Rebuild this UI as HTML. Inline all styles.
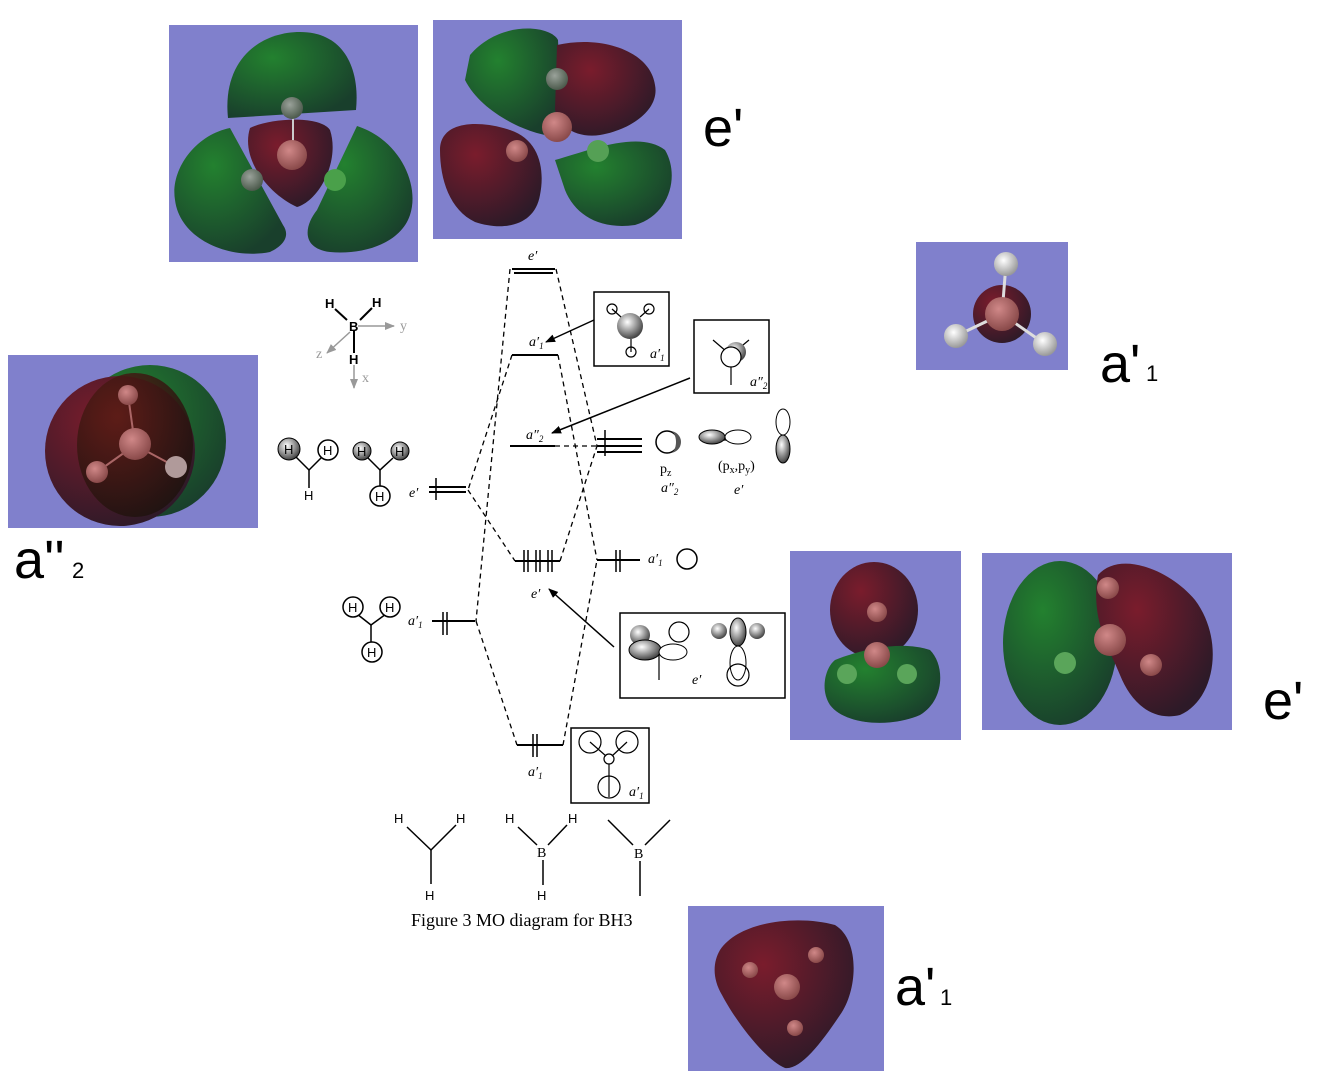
<!DOCTYPE html>
<html><head><meta charset="utf-8"><style>
html,body{margin:0;padding:0;background:#fff;}
svg{display:block;}
.big{font-family:"Liberation Sans",sans-serif;font-size:54px;fill:#000;}
.sub{font-family:"Liberation Sans",sans-serif;font-size:22px;fill:#000;}
.it{font-family:"Liberation Serif",serif;font-style:italic;font-size:14px;fill:#000;}
.rm{font-family:"Liberation Serif",serif;font-size:14px;fill:#000;}
.h{font-family:"Liberation Sans",sans-serif;font-size:13px;fill:#000;}
</style></head><body>
<svg width="1330" height="1082" viewBox="0 0 1330 1082" xmlns="http://www.w3.org/2000/svg">
<defs>
<radialGradient id="g" cx="35%" cy="30%" r="75%"><stop offset="0" stop-color="#23812f"/><stop offset="1" stop-color="#193f2c"/></radialGradient>
<radialGradient id="r" cx="35%" cy="30%" r="75%"><stop offset="0" stop-color="#7a1c2c"/><stop offset="1" stop-color="#2d1a28"/></radialGradient>
<radialGradient id="rd" cx="35%" cy="30%" r="75%"><stop offset="0" stop-color="#5a1c14"/><stop offset="1" stop-color="#1e120e"/></radialGradient>
<radialGradient id="at" cx="40%" cy="35%" r="65%"><stop offset="0" stop-color="#d08888"/><stop offset="1" stop-color="#8a4a4a"/></radialGradient>
<radialGradient id="ag" cx="40%" cy="35%" r="65%"><stop offset="0" stop-color="#9aa29a"/><stop offset="1" stop-color="#4c5a4c"/></radialGradient>
<radialGradient id="aw" cx="40%" cy="35%" r="65%"><stop offset="0" stop-color="#ffffff"/><stop offset="1" stop-color="#999"/></radialGradient>
<radialGradient id="sh" cx="40%" cy="35%" r="65%"><stop offset="0" stop-color="#fff"/><stop offset="1" stop-color="#444"/></radialGradient>
<marker id="ar" markerWidth="10" markerHeight="8" refX="9" refY="4" orient="auto" markerUnits="userSpaceOnUse"><path d="M0,0 L10,4 L0,8 Z" fill="#000"/></marker>
<marker id="ag2" markerWidth="10" markerHeight="8" refX="9" refY="4" orient="auto" markerUnits="userSpaceOnUse"><path d="M0,0 L10,4 L0,8 Z" fill="#999"/></marker>
</defs>

<!-- Box 1 -->
<rect x="169" y="25" width="249" height="237" fill="#8080cc"/>
<path d="M228,118 C222,60 260,32 300,32 C345,32 360,70 356,110 Z" fill="url(#g)"/>
<path d="M250,128 C270,118 320,115 330,130 C340,160 320,200 297,207 C270,195 240,160 250,128 Z" fill="url(#r)"/>
<path d="M230,128 C195,135 170,170 175,200 C180,240 230,260 270,252 C285,245 290,235 283,225 Z" fill="url(#g)"/>
<path d="M357,126 C400,140 420,185 410,215 C400,245 360,255 330,252 C300,248 305,225 317,210 Z" fill="url(#g)"/>
<line x1="293" y1="108" x2="293" y2="155" stroke="#ccc" stroke-width="2"/>
<circle cx="292" cy="108" r="11" fill="url(#ag)"/>
<circle cx="292" cy="155" r="15" fill="url(#at)"/>
<circle cx="252" cy="180" r="11" fill="url(#ag)"/>
<circle cx="335" cy="180" r="11" fill="#4aa04a"/>

<!-- Box 2 -->
<rect x="433" y="20" width="249" height="219" fill="#8080cc"/>
<path d="M470,55 C500,20 550,25 558,40 C560,80 560,120 545,135 C520,130 480,110 465,80 Z" fill="url(#g)"/>
<path d="M557,45 C600,35 650,50 655,85 C660,110 630,130 600,135 C580,138 560,130 555,110 Z" fill="url(#r)"/>
<path d="M440,150 C440,120 480,120 510,130 C540,140 545,170 540,195 C535,225 505,232 475,222 C450,210 440,180 440,150 Z" fill="url(#r)"/>
<path d="M555,160 C590,150 640,130 665,150 C680,175 670,215 635,225 C600,230 575,215 565,190 Z" fill="url(#g)"/>
<circle cx="557" cy="79" r="11" fill="url(#ag)"/>
<circle cx="557" cy="127" r="15" fill="url(#at)"/>
<circle cx="517" cy="151" r="11" fill="url(#at)"/>
<circle cx="598" cy="151" r="11" fill="#55a055"/>

<text class="big" x="703" y="146">e'</text>

<!-- Box 3 -->
<rect x="916" y="242" width="152" height="128" fill="#8080cc"/>
<circle cx="1002" cy="314" r="29" fill="url(#r)"/>
<line x1="1006" y1="264" x2="1002" y2="314" stroke="#ddd" stroke-width="3"/>
<line x1="956" y1="336" x2="1002" y2="314" stroke="#ddd" stroke-width="3"/>
<line x1="1045" y1="344" x2="1002" y2="314" stroke="#ddd" stroke-width="3"/>
<circle cx="1002" cy="314" r="17" fill="url(#at)"/>
<circle cx="1006" cy="264" r="12" fill="url(#aw)"/>
<circle cx="956" cy="336" r="12" fill="url(#aw)"/>
<circle cx="1045" cy="344" r="12" fill="url(#aw)"/>
<text class="big" x="1100" y="382">a'</text><text class="sub" x="1146" y="381">1</text>

<!-- Box 4 -->
<rect x="8" y="355" width="250" height="173" fill="#8080cc"/>
<circle cx="150" cy="441" r="76" fill="url(#g)"/>
<circle cx="120" cy="451" r="75" fill="url(#r)"/>
<ellipse cx="135" cy="445" rx="58" ry="72" fill="url(#rd)" opacity="0.85"/>
<line x1="128" y1="395" x2="135" y2="445" stroke="#a66" stroke-width="2"/>
<line x1="97" y1="472" x2="135" y2="445" stroke="#a66" stroke-width="2"/>
<line x1="176" y1="467" x2="135" y2="445" stroke="#a66" stroke-width="2"/>
<circle cx="135" cy="444" r="16" fill="url(#at)"/>
<circle cx="128" cy="395" r="10" fill="url(#at)"/>
<circle cx="97" cy="472" r="11" fill="url(#at)"/>
<circle cx="176" cy="467" r="11" fill="#b09a9a"/>
<text class="big" x="14" y="578">a''</text><text class="sub" x="72" y="578">2</text>

<!-- Box 5 -->
<rect x="790" y="551" width="171" height="189" fill="#8080cc"/>
<ellipse cx="874" cy="610" rx="44" ry="48" fill="url(#r)"/>
<path d="M835,660 C860,650 900,640 930,650 C945,665 945,700 920,715 C890,728 845,725 830,705 C820,690 825,668 835,660 Z" fill="url(#g)"/>
<circle cx="877" cy="612" r="10" fill="url(#at)"/>
<circle cx="877" cy="655" r="13" fill="url(#at)"/>
<circle cx="847" cy="674" r="10" fill="#5aa55a"/>
<circle cx="907" cy="674" r="10" fill="#5aa55a"/>

<!-- Box 6 -->
<rect x="982" y="553" width="250" height="177" fill="#8080cc"/>
<ellipse cx="1060" cy="643" rx="57" ry="82" fill="url(#g)"/>
<path d="M1098,575 C1120,550 1170,570 1195,600 C1225,640 1215,700 1180,715 C1150,722 1130,700 1120,675 C1110,650 1090,620 1098,575 Z" fill="url(#r)"/>
<circle cx="1110" cy="640" r="16" fill="url(#at)"/>
<circle cx="1108" cy="588" r="11" fill="url(#at)"/>
<circle cx="1065" cy="663" r="11" fill="#5aa55a"/>
<circle cx="1151" cy="665" r="11" fill="url(#at)"/>
<text class="big" x="1263" y="719">e'</text>

<!-- Box 7 -->
<rect x="688" y="906" width="196" height="165" fill="#8080cc"/>
<path d="M720,950 C740,920 800,915 835,925 C860,940 858,990 840,1015 C820,1045 800,1070 785,1068 C765,1060 735,1020 722,995 C712,978 713,962 720,950 Z" fill="url(#r)"/>
<circle cx="750" cy="970" r="8" fill="url(#at)"/>
<circle cx="816" cy="955" r="8" fill="url(#at)"/>
<circle cx="795" cy="1028" r="8" fill="url(#at)"/>
<circle cx="787" cy="987" r="13" fill="url(#at)"/>
<text class="big" x="895" y="1005">a'</text><text class="sub" x="940" y="1005">1</text>

<!-- central diagram lines -->
<g stroke="#000" stroke-width="2" fill="none">
<line x1="512" y1="269" x2="555" y2="269"/><line x1="514" y1="273" x2="553" y2="273"/>
<line x1="512" y1="355" x2="558" y2="355"/>
<line x1="510" y1="446" x2="555" y2="446"/>
<line x1="597" y1="439" x2="642" y2="439"/><line x1="597" y1="446" x2="642" y2="446"/><line x1="597" y1="452" x2="642" y2="452"/>
<line x1="429" y1="487" x2="466" y2="487"/><line x1="429" y1="492" x2="466" y2="492"/>
<line x1="515" y1="561" x2="560" y2="561"/>
<line x1="597" y1="560" x2="640" y2="560"/>
<line x1="432" y1="621" x2="475" y2="621"/>
<line x1="517" y1="745" x2="563" y2="745"/>
</g>
<g stroke="#000" stroke-width="1.5" fill="none">
<line x1="605" y1="430" x2="605" y2="456"/><line x1="436" y1="478" x2="436" y2="500"/>
<line x1="524" y1="550" x2="524" y2="572"/><line x1="528" y1="550" x2="528" y2="572"/>
<line x1="536" y1="550" x2="536" y2="572"/><line x1="540" y1="550" x2="540" y2="572"/>
<line x1="548" y1="550" x2="548" y2="572"/><line x1="552" y1="550" x2="552" y2="572"/>
<line x1="616" y1="550" x2="616" y2="572"/><line x1="620" y1="550" x2="620" y2="572"/>
<line x1="443" y1="612" x2="443" y2="635"/><line x1="447" y1="612" x2="447" y2="635"/>
<line x1="533" y1="734" x2="533" y2="757"/><line x1="537" y1="734" x2="537" y2="757"/>
</g>
<g stroke="#000" stroke-width="1.3" stroke-dasharray="5,4" fill="none">
<line x1="510" y1="269" x2="476" y2="621"/>
<line x1="556" y1="269" x2="597" y2="446"/>
<line x1="512" y1="355" x2="468" y2="490"/>
<line x1="558" y1="355" x2="597" y2="560"/>
<line x1="555" y1="446" x2="597" y2="446"/>
<line x1="468" y1="490" x2="515" y2="561"/>
<line x1="560" y1="561" x2="597" y2="446"/>
<line x1="476" y1="621" x2="517" y2="745"/>
<line x1="563" y1="745" x2="597" y2="560"/>
</g>
<text class="it" x="528" y="260">e′</text>
<text class="it" x="529" y="346">a′<tspan font-size="9" dy="3">1</tspan></text>
<text class="it" x="526" y="439">a″<tspan font-size="9" dy="3">2</tspan></text>
<text class="it" x="409" y="497">e′</text>
<text class="it" x="648" y="563">a′<tspan font-size="9" dy="3">1</tspan></text>
<circle cx="687" cy="559" r="10" fill="none" stroke="#000" stroke-width="1.5"/>
<text class="it" x="531" y="598">e′</text>
<text class="it" x="408" y="625">a′<tspan font-size="9" dy="3">1</tspan></text>
<text class="it" x="528" y="776">a′<tspan font-size="9" dy="3">1</tspan></text>

<!-- B p orbitals -->
<circle cx="667" cy="442" r="11" fill="#fff" stroke="#000" stroke-width="1.5"/>
<path d="M670,431 A11,11 0 0 1 670,453 A6,11 0 0 0 670,431Z" fill="#555"/>
<path d="M725,437 C700,425 695,443 725,440 M725,437 C750,425 755,443 725,440" fill="url(#sh)" stroke="#000"/>
<ellipse cx="712" cy="437" rx="13" ry="7" fill="url(#sh)" stroke="#000"/>
<ellipse cx="738" cy="437" rx="13" ry="7" fill="#fff" stroke="#000"/>
<ellipse cx="783" cy="422" rx="7" ry="13" fill="#fff" stroke="#000"/>
<ellipse cx="783" cy="449" rx="7" ry="14" fill="url(#sh)" stroke="#000"/>
<text class="rm" x="660" y="473">p<tspan font-size="10" dy="3">z</tspan></text>
<text class="it" x="661" y="492">a″<tspan font-size="9" dy="3">2</tspan></text>
<text class="rm" x="718" y="470">(p<tspan font-size="10" dy="3">x</tspan><tspan dy="-3">,p</tspan><tspan font-size="10" dy="3">y</tspan><tspan dy="-3">)</tspan></text>
<text class="it" x="734" y="494">e′</text>

<!-- boxes -->
<g fill="none" stroke="#000" stroke-width="1.5">
<rect x="594" y="292" width="75" height="74"/>
<rect x="694" y="320" width="75" height="73"/>
<rect x="620" y="613" width="165" height="85"/>
<rect x="571" y="728" width="78" height="75"/>
</g>
<circle cx="630" cy="326" r="13" fill="url(#sh)"/>
<g fill="none" stroke="#000" stroke-width="1.2">
<circle cx="612" cy="309" r="5"/><circle cx="649" cy="309" r="5"/><circle cx="631" cy="352" r="5"/>
<line x1="612" y1="309" x2="621" y2="317"/><line x1="649" y1="309" x2="640" y2="317"/><line x1="631" y1="339" x2="631" y2="352"/>
<line x1="713" y1="340" x2="727" y2="352"/><line x1="749" y1="340" x2="737" y2="350"/><line x1="731" y1="366" x2="731" y2="385"/>
</g>
<circle cx="736" cy="352" r="10" fill="url(#sh)"/>
<circle cx="731" cy="357" r="10" fill="#fff" stroke="#000" stroke-width="1.2"/>
<text class="it" x="650" y="358">a′<tspan font-size="9" dy="3">1</tspan></text>
<text class="it" x="750" y="386">a″<tspan font-size="9" dy="3">2</tspan></text>
<!-- e' box drawings -->
<circle cx="640" cy="635" r="10" fill="url(#sh)"/>
<ellipse cx="645" cy="650" rx="16" ry="10" fill="url(#sh)" stroke="#000"/>
<ellipse cx="673" cy="652" rx="14" ry="8" fill="#fff" stroke="#000"/>
<circle cx="679" cy="632" r="10" fill="#fff" stroke="#000" stroke-width="1.2"/>
<line x1="659" y1="654" x2="659" y2="680" stroke="#000" stroke-width="1.2"/>
<circle cx="719" cy="631" r="8" fill="url(#sh)"/><circle cx="757" cy="631" r="8" fill="url(#sh)"/>
<ellipse cx="738" cy="632" rx="8" ry="14" fill="url(#sh)" stroke="#000"/>
<ellipse cx="738" cy="663" rx="8" ry="17" fill="#fff" stroke="#000"/>
<circle cx="738" cy="675" r="11" fill="none" stroke="#000" stroke-width="1.2"/>
<text class="it" x="692" y="684">e′</text>
<!-- a1' box -->
<g fill="none" stroke="#000" stroke-width="1.2">
<circle cx="590" cy="742" r="11"/><circle cx="627" cy="742" r="11"/><circle cx="609" cy="787" r="11"/><circle cx="609" cy="759" r="5"/>
<line x1="590" y1="742" x2="606" y2="756"/><line x1="627" y1="742" x2="612" y2="756"/><line x1="609" y1="764" x2="609" y2="797"/>
</g>
<text class="it" x="629" y="796">a′<tspan font-size="9" dy="3">1</tspan></text>

<!-- arrows -->
<g stroke="#000" stroke-width="1.5">
<line x1="594" y1="320" x2="546" y2="342" marker-end="url(#ar)"/>
<line x1="690" y1="378" x2="552" y2="433" marker-end="url(#ar)"/>
<line x1="614" y1="647" x2="549" y2="589" marker-end="url(#ar)"/>
</g>

<!-- axes -->
<g stroke="#000" stroke-width="2"><line x1="335" y1="309" x2="347" y2="320"/><line x1="372" y1="308" x2="360" y2="320"/><line x1="354" y1="330" x2="354" y2="353"/></g>
<g stroke="#999" stroke-width="1.5"><line x1="358" y1="326" x2="394" y2="326" marker-end="url(#ag2)"/><line x1="350" y1="332" x2="327" y2="353" marker-end="url(#ag2)"/><line x1="354" y1="365" x2="354" y2="388" marker-end="url(#ag2)"/></g>
<text class="h" x="325" y="308" font-weight="bold" font-size="12">H</text>
<text class="h" x="372" y="307" font-weight="bold" font-size="12">H</text>
<text class="h" x="349" y="331" font-weight="bold" font-size="12">B</text>
<text class="h" x="349" y="364" font-weight="bold" font-size="12">H</text>
<text class="rm" x="400" y="330" fill="#999" font-size="11" style="fill:#999">y</text>
<text class="rm" x="316" y="358" font-size="11" style="fill:#999">z</text>
<text class="rm" x="362" y="382" font-size="11" style="fill:#999">x</text>

<!-- H group orbitals -->
<g stroke="#000" stroke-width="1.5" fill="none">
<line x1="296" y1="457" x2="309" y2="470"/><line x1="322" y1="457" x2="309" y2="470"/><line x1="309" y1="470" x2="309" y2="488"/>
<line x1="368" y1="458" x2="380" y2="470"/><line x1="393" y1="458" x2="380" y2="470"/><line x1="380" y1="470" x2="380" y2="486"/>
<line x1="357" y1="614" x2="371" y2="625"/><line x1="386" y1="614" x2="371" y2="625"/><line x1="371" y1="625" x2="371" y2="642"/>
<circle cx="328" cy="450" r="10" fill="#fff"/><circle cx="380" cy="496" r="10" fill="#fff"/>
<circle cx="353" cy="607" r="10" fill="#fff"/><circle cx="390" cy="607" r="10" fill="#fff"/><circle cx="372" cy="652" r="10" fill="#fff"/>
</g>
<circle cx="289" cy="449" r="11" fill="url(#sh)" stroke="#000"/>
<circle cx="362" cy="451" r="9" fill="url(#sh)" stroke="#000"/>
<circle cx="400" cy="451" r="9" fill="url(#sh)" stroke="#000"/>
<g class="h"><text class="h" x="284" y="454">H</text><text class="h" x="323" y="455">H</text><text class="h" x="304" y="500">H</text>
<text class="h" x="357" y="456">H</text><text class="h" x="395" y="456">H</text><text class="h" x="375" y="501">H</text>
<text class="h" x="348" y="612">H</text><text class="h" x="385" y="612">H</text><text class="h" x="367" y="657">H</text></g>

<!-- bottom structures -->
<g stroke="#000" stroke-width="1.5">
<line x1="407" y1="827" x2="431" y2="850"/><line x1="456" y1="825" x2="431" y2="850"/><line x1="431" y1="850" x2="431" y2="884"/>
<line x1="518" y1="827" x2="537" y2="845"/><line x1="567" y1="825" x2="548" y2="845"/><line x1="543" y1="860" x2="543" y2="885"/>
<line x1="608" y1="820" x2="633" y2="845"/><line x1="670" y1="820" x2="645" y2="845"/><line x1="640" y1="861" x2="640" y2="896"/>
</g>
<text class="h" x="394" y="823">H</text><text class="h" x="456" y="823">H</text><text class="h" x="425" y="900">H</text>
<text class="h" x="505" y="823">H</text><text class="h" x="568" y="823">H</text><text class="h" x="537" y="900">H</text>
<text class="rm" x="537" y="857">B</text><text class="rm" x="634" y="858">B</text>
<text class="rm" x="411" y="926" style="font-size:18px">Figure 3 MO diagram for BH3</text>
</svg>
</body></html>
